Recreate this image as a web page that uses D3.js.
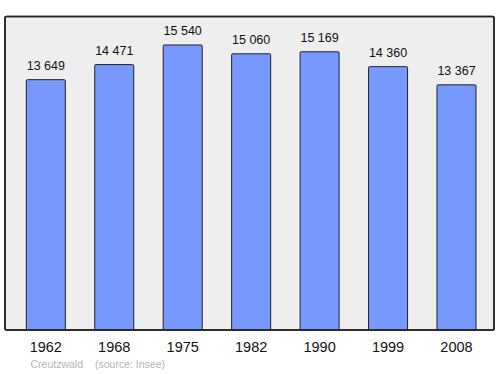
<!DOCTYPE html>
<html>
<head>
    <meta charset="utf-8">
    <script src="https://d3js.org/d3.v7.min.js"></script>
    <style>
        body { margin: 0; background: #fff; }
        svg { display: block; font-family: "Liberation Sans", Arial, sans-serif; }
        .frame { fill: #eeeeee; stroke: #222; stroke-width: 1.5px; }
        .bar { fill: #7799ff; stroke: #222; stroke-width: 1px; }
        .val { font-size: 12.5px; fill: #111; text-anchor: middle; }
        .year { font-size: 14.5px; fill: #111; text-anchor: middle; }
        .src { font-size: 10.5px; fill: #b4b4b4; }
    </style>
</head>
<body>
<svg width="500" height="374"></svg>
<script>
    // populations par recensement
    var years = ["1962", "1968", "1975", "1982", "1990", "1999", "2008"];
    var population = [13649, 14471, 15540, 15060, 15169, 14360, 13367];
    var commune = "Creutzwald";
    var source = "(source: Insee)";

    var svg = d3.select("svg");

    var x = d3.scaleBand()
        .domain(years)
        .range([26.3, 476])
        .paddingInner(0.43)
        .paddingOuter(0);

    var y = d3.scaleLinear()
        .domain([0, d3.max(population) * 1.1])
        .range([330, 16.5]);

    svg.append("rect")
        .attr("class", "frame")
        .attr("x", 5).attr("y", 16.5)
        .attr("width", 489).attr("height", 313.5)
        .attr("rx", 1.5);

    var g = svg.selectAll(".b")
        .data(years)
        .enter().append("g");

    g.append("rect")
        .attr("class", "bar")
        .attr("x", function (d) { return x(d); })
        .attr("y", function (d, i) { return y(population[i]); })
        .attr("width", x.bandwidth())
        .attr("height", function (d, i) { return y(0) - y(population[i]); })
        .attr("rx", 1);

    g.append("text")
        .attr("class", "val")
        .attr("x", function (d) { return x(d) + x.bandwidth() / 2; })
        .attr("y", function (d, i) { return y(population[i]) - 10; })
        .text(function (d, i) { return d3.format(",")(population[i]).replace(",", " "); });

    // bordure du cadre par-dessus les barres
    svg.append("rect")
        .attr("x", 5).attr("y", 16.5)
        .attr("width", 489).attr("height", 313.5)
        .attr("rx", 1.5)
        .style("fill", "none").style("stroke", "#222").style("stroke-width", "1.5px");

    g.append("text")
        .attr("class", "year")
        .attr("x", function (d) { return x(d) + x.bandwidth() / 2; })
        .attr("y", 352)
        .text(function (d) { return d; });

    svg.append("text").attr("class", "src").attr("x", 30.5).attr("y", 367.5).text(commune);
    svg.append("text").attr("class", "src").attr("x", 95).attr("y", 367.5).text(source);
</script>
</body>
</html>
